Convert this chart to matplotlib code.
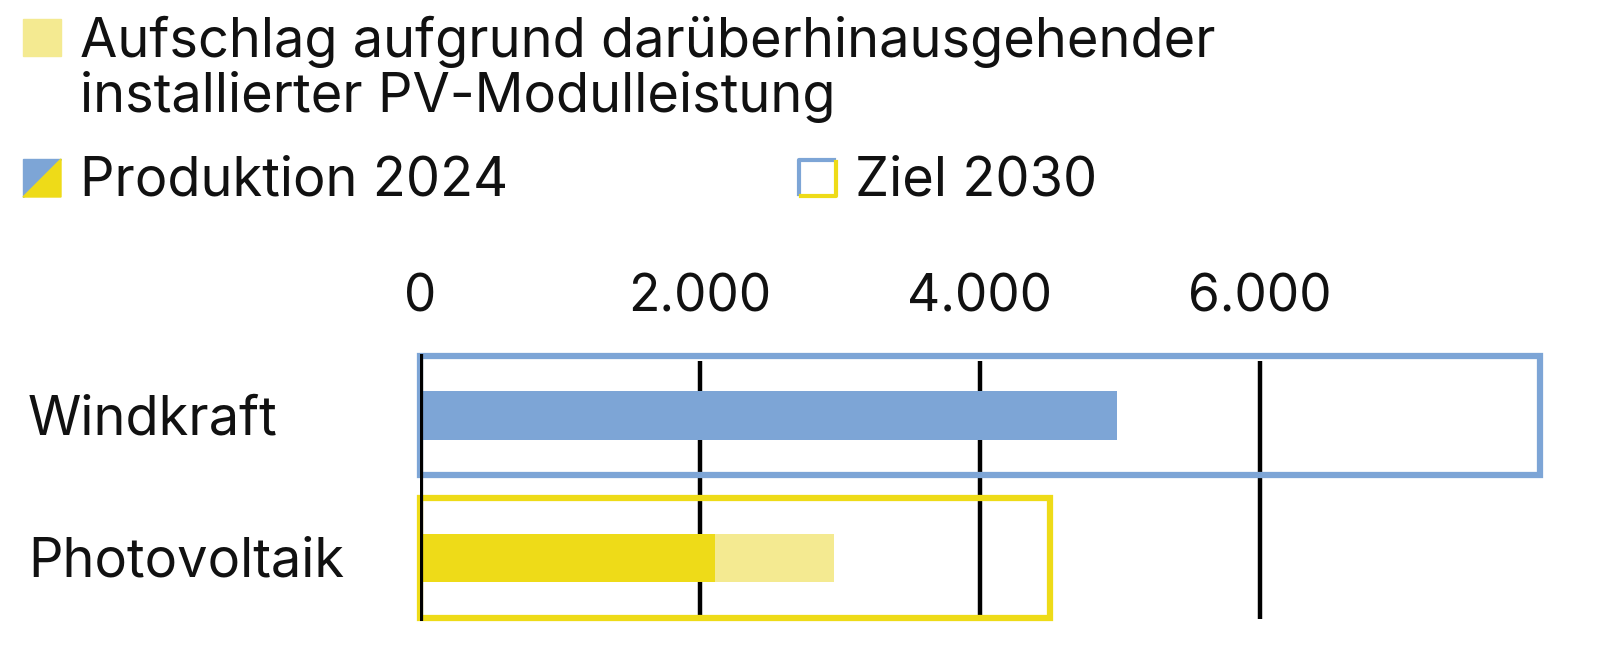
import matplotlib.pyplot as plt
from matplotlib.patches import Rectangle, Polygon
from matplotlib.lines import Line2D
import matplotlib.transforms as mtransforms

# data (MW / Jahr, grob aus der Grafik gelesen)
categories = ["Windkraft", "Photovoltaik"]
produktion_2024 = [4980, 2110]
aufschlag = [0, 850]
ziel_2030 = [8000, 4500]
ticks = [0, 2000, 4000, 6000]
tick_labels = ["0", "2.000", "4.000", "6.000"]

BLUE = "#7da5d6"
YELLOW = "#eedb18"
LIGHT_YELLOW = "#f4ea91"
TXT = "#111111"
FONT = "Inter"

W, H = 1598, 656
fig = plt.figure(figsize=(W / 100, H / 100), dpi=100)

def px(x, y):
    return x / W, 1 - y / H

ax = fig.add_axes([420 / W, 1 - 625 / H, (1548 - 420) / W, (625 - 350) / H])
ax.set_xlim(0, 8060)
ax.set_ylim(1.47, -0.46)
for s in ax.spines.values():
    s.set_visible(False)
ax.set_yticks([])
ax.xaxis.tick_top()
ax.set_xticks(ticks)
ax.set_xticklabels(tick_labels, fontsize=37, family=FONT, color=TXT)
ax.tick_params(axis="x", length=0, pad=20)

row_colors = [BLUE, YELLOW]
ypos = list(range(len(categories)))

# gridlines
ax.vlines(ticks[1:], -0.38, 1.43, color="black", lw=3.2, zorder=1)
ax.vlines([0], -0.43, 1.44, color="black", lw=4.5, zorder=4)

# production bars + surcharge
ax.barh(ypos, produktion_2024, height=0.34, color=row_colors, zorder=2)
ax.barh(ypos, aufschlag, left=produktion_2024, height=0.34, color=LIGHT_YELLOW, zorder=2)

# target boxes
for y, val, c in zip(ypos, ziel_2030, row_colors):
    ax.add_patch(Rectangle((0, y - 0.42), val, 0.84, fill=False, edgecolor=c,
                           lw=4.5, zorder=3, clip_on=False))

# category labels
tr = mtransforms.blended_transform_factory(fig.transFigure, ax.transData)
for y, name in zip(ypos, categories):
    ax.text(28 / W, y + 0.03, name, transform=tr, ha="left", va="center",
            fontsize=39, family=FONT, color=TXT)

# legend
fig.patches.append(Rectangle(px(23, 56), 38 / W, 37 / H, transform=fig.transFigure,
                             color=LIGHT_YELLOW))
fig.text(*px(80, 57), "Aufschlag aufgrund darüberhinausgehender", fontsize=39,
         family=FONT, color=TXT, va="baseline")
fig.text(*px(80, 112), "installierter PV-Modulleistung", fontsize=39,
         family=FONT, color=TXT, va="baseline")

fig.patches.append(Polygon([px(23, 197), px(23, 159), px(61, 159)], closed=True,
                           transform=fig.transFigure, color=BLUE))
fig.patches.append(Polygon([px(23, 197), px(61, 159), px(61, 197)], closed=True,
                           transform=fig.transFigure, color=YELLOW))
fig.text(*px(80, 196), "Produktion 2024", fontsize=39, family=FONT, color=TXT,
         va="baseline")

x0, y0, x1, y1 = 799, 160, 836, 196
fig.lines.append(Line2D(*zip(px(x0, y1 - 2), px(x0, y0), px(x1 - 2, y0)),
                        transform=fig.transFigure, color=BLUE, lw=3))
fig.lines.append(Line2D(*zip(px(x0 + 2, y1), px(x1, y1), px(x1, y0 + 2)),
                        transform=fig.transFigure, color=YELLOW, lw=3))
fig.text(*px(855, 196), "Ziel 2030", fontsize=39, family=FONT, color=TXT,
         va="baseline")

fig.savefig("out.png", dpi=100, facecolor="white")
